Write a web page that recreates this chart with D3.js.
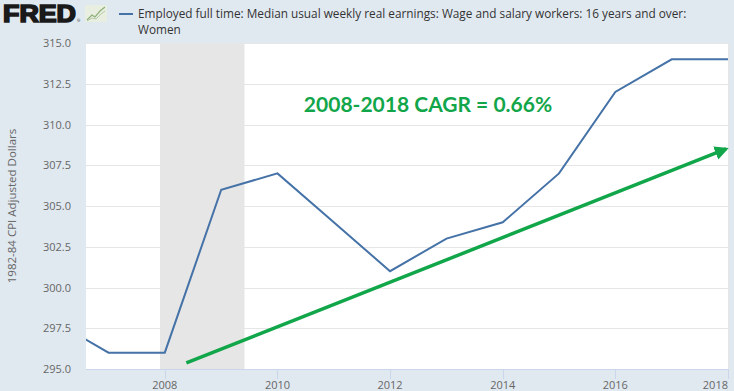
<!DOCTYPE html>
<html><head><meta charset="utf-8">
<script src="https://cdn.jsdelivr.net/npm/d3@7"></script>
<style>html,body{margin:0;padding:0;background:#e1e9f0;}svg{display:block;font-family:"Open Sans",sans-serif;}</style>
</head><body>
<svg id="c" width="734" height="391"></svg>
<script>
const years = [2006,2007,2008,2009,2010,2011,2012,2013,2014,2015,2016,2017,2018];
const earnings = [298,296,296,306,307,304,301,303,304,307,312,314,314];
const yTicks = [295,297.5,300,302.5,305,307.5,310,312.5,315];
const xTickYears = [2008,2010,2012,2014,2016,2018];
const recession = [["2007-12-01","2009-06-01"]];
const arrowStart = {date:"2008-05-20", value:295.37};
const arrowEnd = {date:"2017-12-20", value:308.5};
const seriesTitle = ["Employed full time: Median usual weekly real earnings: Wage and salary workers: 16 years and over:","Women"];
const yTitle = "1982-84 CPI Adjusted Dollars";
const annotation = "2008-2018 CAGR = 0.66%";

const svg = d3.select("#c");
const L=86,R=728,T=43,B=369;
const x = d3.scaleTime().domain([new Date(2006,7,8), new Date(2018,0,1)]).range([L,R]);
const y = d3.scaleLinear().domain([295,315]).range([B,T]);
const pd = s => { const [a,b,c] = s.split("-").map(Number); return new Date(a,b-1,c); };

svg.append("defs").append("clipPath").attr("id","clip").append("rect")
  .attr("x",L).attr("y",T-2).attr("width",R-L+1).attr("height",B-T+4);
svg.select("defs").append("marker").attr("id","ah").attr("viewBox","0 0 10 10")
  .attr("refX",8).attr("refY",5).attr("markerWidth",4).attr("markerHeight",4)
  .attr("orient","auto").append("path").attr("d","M0,0L10,5L0,10Z").attr("fill","#12a64a");

// plot bg
svg.append("rect").attr("x",L).attr("y",T).attr("width",R-L+1).attr("height",B-T).attr("fill","#fff");
// recession
svg.selectAll(".rec").data(recession).enter().append("rect")
  .attr("x",d=>x(pd(d[0]))).attr("y",T).attr("width",d=>x(pd(d[1]))-x(pd(d[0])))
  .attr("height",B-T).attr("fill","#e6e6e6");
// grid
svg.selectAll(".g").data(yTicks.slice(1)).enter().append("line")
  .attr("x1",L).attr("x2",R+1).attr("y1",d=>Math.round(y(d))+0.5).attr("y2",d=>Math.round(y(d))+0.5)
  .attr("stroke","#e6e6e6").attr("stroke-width",1);
// y labels
svg.selectAll(".yl").data(yTicks).enter().append("text")
  .attr("x",71).attr("y",d=>y(d)+4).attr("text-anchor","end")
  .attr("font-size",11).attr("fill","#666").text(d=>d.toFixed(1));
// y title
svg.append("text").attr("transform","translate(16,"+((T+B)/2)+") rotate(-90)")
  .attr("text-anchor","middle").attr("font-size",11.5).attr("fill","#666").text(yTitle);
// x axis
svg.append("line").attr("x1",L).attr("x2",R+1).attr("y1",B+0.5).attr("y2",B+0.5).attr("stroke","#ccd6eb");
svg.selectAll(".xt").data(xTickYears).enter().append("line")
  .attr("x1",d=>Math.round(x(new Date(d,0,1)))+0.5).attr("x2",d=>Math.round(x(new Date(d,0,1)))+0.5)
  .attr("y1",B).attr("y2",B+10).attr("stroke","#ccd6eb");
svg.selectAll(".xl").data(xTickYears).enter().append("text")
  .attr("x",d=>{const p=x(new Date(d,0,1)); return d===2018? R : p;})
  .attr("text-anchor",d=>d===2018?"end":"middle")
  .attr("y",389).attr("font-size",11).attr("fill","#666").text(d=>d);
// right edge line
svg.append("line").attr("x1",R+0.5).attr("x2",R+0.5).attr("y1",T).attr("y2",B).attr("stroke","#e6e6e6");

// series
const line = d3.line().x(d=>x(new Date(d[0],0,1))).y(d=>y(d[1]));
svg.append("path").datum(years.map((yr,i)=>[yr,earnings[i]])).attr("clip-path","url(#clip)")
  .attr("d",line).attr("fill","none").attr("stroke","#4572a7").attr("stroke-width",2).attr("stroke-linejoin","miter");

// arrow
svg.append("line").attr("x1",x(pd(arrowStart.date))).attr("y1",y(arrowStart.value))
  .attr("x2",x(pd(arrowEnd.date))).attr("y2",y(arrowEnd.value))
  .attr("stroke","#12a64a").attr("stroke-width",3.5).attr("marker-end","url(#ah)");

// annotation
svg.append("text").attr("x",428).attr("y",112).attr("text-anchor","middle")
  .attr("font-family","Lato, 'Open Sans', sans-serif").attr("font-weight","bold").attr("font-size",21)
  .attr("fill","#12a64a").text(annotation);

// header: FRED logo
svg.append("text").attr("x",3).attr("y",22).attr("font-family","'Liberation Sans',Arial,sans-serif")
  .attr("font-weight","900").attr("font-size",23).attr("fill","#1a1a1a")
  .attr("textLength",73).attr("lengthAdjust","spacingAndGlyphs").attr("stroke","#1a1a1a").attr("stroke-width",1.6).text("FRED");
svg.append("text").attr("x",77).attr("y",22).attr("font-size",4).attr("fill","#333").text("®");
const icon = svg.append("g").attr("transform","translate(85,5)");
icon.append("rect").attr("width",22).attr("height",17).attr("fill","#e8efe0");
icon.append("path").attr("d","M2,15 L7,10 L10,12 L15,6 L20,2").attr("fill","none").attr("stroke","#8fb07a").attr("stroke-width",1.2);
icon.append("path").attr("d","M2,16 L7,13 L11,14 L16,9 L20,6").attr("fill","none").attr("stroke","#b5c9a6").attr("stroke-width",1);
// legend
svg.append("line").attr("x1",119).attr("x2",133).attr("y1",14).attr("y2",14).attr("stroke","#4572a7").attr("stroke-width",2);
svg.selectAll(".lg").data(seriesTitle).enter().append("text")
  .attr("x",138).attr("y",(d,i)=>18+i*16).attr("font-size",11.8).attr("fill","#333").text(d=>d);
</script>
</body></html>
